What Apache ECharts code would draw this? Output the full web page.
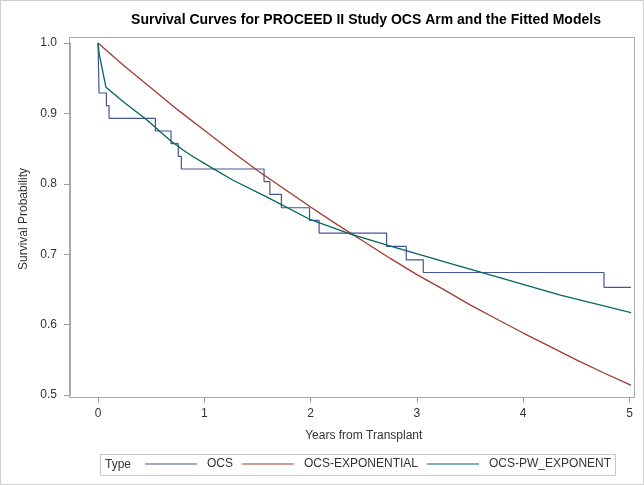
<!DOCTYPE html>
<html>
<head>
<meta charset="utf-8">
<script src="https://cdn.jsdelivr.net/npm/echarts@6/dist/echarts.min.js"></script>
<style>
  html, body { margin: 0; padding: 0; background: #fff; }
  #chart { width: 644px; height: 485px; }
</style>
</head>
<body>
<div id="chart"></div>
<script>
// Kaplan-Meier estimate (OCS arm)
const ocsYears = [0, 0.01, 0.079, 0.104, 0.54, 0.687, 0.755, 0.784, 1.562, 1.617, 1.725, 1.99, 2.08, 2.715, 2.90, 3.06, 4.76, 5.04]
const ocsSurv = [1.0, 0.929, 0.911, 0.893, 0.875, 0.857, 0.839, 0.821, 0.803, 0.785, 0.766, 0.748, 0.730, 0.711, 0.692, 0.674, 0.653, 0.653]

// fitted exponential model
const expYears = [0, 0.25, 0.5, 0.75, 1, 1.25, 1.5, 1.75, 2, 2.25, 2.5, 2.75, 3, 3.25, 3.5, 3.75, 4, 4.25, 4.5, 4.75, 5.04]
const expSurv = [1.0, 0.967, 0.936, 0.905, 0.876, 0.847, 0.819, 0.793, 0.767, 0.742, 0.718, 0.694, 0.671, 0.650, 0.628, 0.608, 0.588, 0.569, 0.550, 0.532, 0.512]

// fitted piecewise exponential model
const pwYears = [0, 0.013, 0.075, 0.25, 0.458, 0.677, 0.8, 0.9, 1.0, 1.27, 1.59, 2.0, 2.37, 2.72, 3.31, 3.59, 4.35, 5.04]
const pwSurv = [1.0, 0.983, 0.937, 0.915, 0.891, 0.862, 0.848, 0.838, 0.829, 0.805, 0.781, 0.749, 0.729, 0.713, 0.687, 0.675, 0.642, 0.616]

const seriesNames = ['OCS', 'OCS-EXPONENTIAL', 'OCS-PW_EXPONENT']
const yTicks = [0.5, 0.6, 0.7, 0.8, 0.9, 1.0]
const xTicks = [0, 1, 2, 3, 4, 5]

const font = '"Liberation Sans", Arial, sans-serif'
const colors = ['#445694', '#A23A2E', '#01665E']
const frameColor = '#a8a8a8'

function pairs(xs, ys) {
  return xs.map((x, i) => [x, ys[i]])
}

const chart = echarts.init(document.getElementById('chart'))

chart.setOption({
  animation: false,
  color: colors,
  textStyle: { fontFamily: font },
  grid: {
    left: 98,
    right: 14.5,
    top: 43,
    bottom: 90
  },
  xAxis: {
    type: 'value',
    min: xTicks[0],
    max: xTicks[xTicks.length - 1],
    interval: 1,
    offset: 2.5,
    name: 'Years from Transplant',
    nameLocation: 'middle',
    nameGap: 32,
    nameTextStyle: { fontSize: 12, color: '#333', fontFamily: font },
    axisLine: { show: true, onZero: false, lineStyle: { color: frameColor } },
    axisTick: { show: true, length: 5, lineStyle: { color: '#999' } },
    axisLabel: { fontSize: 12, color: '#333', margin: 10, fontFamily: font },
    splitLine: { show: false }
  },
  yAxis: {
    type: 'value',
    min: yTicks[0],
    max: yTicks[yTicks.length - 1],
    interval: 0.1,
    offset: 28,
    name: 'Survival Probability',
    nameLocation: 'middle',
    nameGap: 37,
    nameTextStyle: { fontSize: 12, color: '#333', fontFamily: font },
    axisLine: { show: true, onZero: false, lineStyle: { color: frameColor } },
    axisTick: { show: true, length: 6, lineStyle: { color: '#999' } },
    axisLabel: {
      fontSize: 12,
      color: '#333',
      margin: 13,
      fontFamily: font,
      formatter: v => v.toFixed(1)
    },
    splitLine: { show: false }
  },
  legend: {
    data: seriesNames,
    left: 145,
    top: 458,
    padding: 0,
    icon: 'rect',
    itemWidth: 52,
    itemHeight: 1.2,
    itemGap: 9,
    textStyle: { fontSize: 12, color: '#333', fontFamily: font, padding: [0, 0, 0, 5] }
  },
  graphic: [
    {
      type: 'rect',
      shape: { x: 0.5, y: 0.5, width: 643, height: 484 },
      style: { fill: 'none', stroke: '#cfcfcf', lineWidth: 1 },
      silent: true
    },
    {
      type: 'rect',
      shape: { x: 69.5, y: 37.5, width: 565, height: 360 },
      style: { fill: 'none', stroke: frameColor, lineWidth: 1 },
      silent: true
    },
    {
      type: 'rect',
      shape: { x: 100.5, y: 454.5, width: 515, height: 21 },
      style: { fill: 'none', stroke: '#c8c8c8', lineWidth: 1 },
      silent: true
    },
    {
      type: 'text',
      x: 105,
      y: 465,
      style: { text: 'Type', fontSize: 12, fill: '#333', fontFamily: font, textVerticalAlign: 'middle' },
      silent: true
    },
    {
      type: 'text',
      x: 366,
      y: 20,
      style: {
        text: 'Survival Curves for PROCEED II Study OCS Arm and the Fitted Models',
        fontSize: 14,
        fontWeight: 'bold',
        fill: '#000',
        fontFamily: font,
        textAlign: 'center',
        textVerticalAlign: 'middle'
      },
      silent: true
    }
  ],
  series: [
    {
      name: seriesNames[0],
      type: 'line',
      step: 'end',
      data: pairs(ocsYears, ocsSurv),
      showSymbol: false,
      clip: false,
      lineStyle: { width: 1.2 }
    },
    {
      name: seriesNames[1],
      type: 'line',
      data: pairs(expYears, expSurv),
      showSymbol: false,
      clip: false,
      lineStyle: { width: 1.3 }
    },
    {
      name: seriesNames[2],
      type: 'line',
      data: pairs(pwYears, pwSurv),
      showSymbol: false,
      clip: false,
      lineStyle: { width: 1.3 }
    }
  ]
})
</script>
</body>
</html>
